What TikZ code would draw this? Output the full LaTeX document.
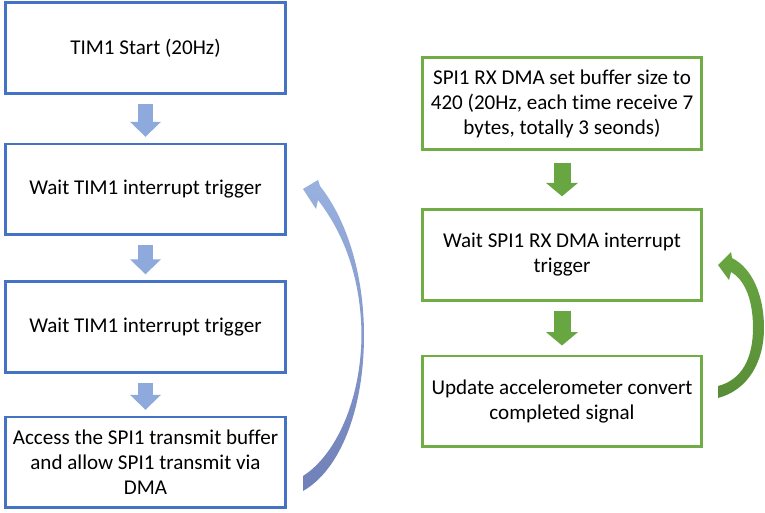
\documentclass[tikz,border=0pt]{standalone}
\usepackage{fontspec}
\setmainfont{Carlito}[Ligatures=NoCommon]
\usetikzlibrary{arrows.meta}

\definecolor{bordaazul}{HTML}{4472C4}
\definecolor{bordaverde}{HTML}{70AD47}
\definecolor{setaazul}{HTML}{8EA9DB}
\definecolor{setaverde}{HTML}{68A641}

\begin{document}
\begin{tikzpicture}[x=0.75pt, y=-0.75pt,
    caixa/.style={draw, line width=2pt, minimum width=210pt, minimum height=68pt,
        align=center, inner sep=0pt, font=\fontsize{15.8}{18.75}\selectfont},
    caixaazul/.style={caixa, draw=bordaazul},
    caixaverde/.style={caixa, draw=bordaverde, minimum width=209pt},
    setabloco/.style={line width=11.25pt, shorten <=7pt, shorten >=4.5pt,
        -{Triangle[width=22.5pt, length=11.25pt]}}]
    \useasboundingbox (0,0) rectangle (765,513);

    % Coluna da esquerda
    \node[caixaazul] (tstart) at (145.5,48) {TIM1 Start (20Hz)};
    \node[caixaazul] (espera1) at (145.5,189.5) {Wait TIM1 interrupt trigger};
    \node[caixaazul] (espera2) at (145.5,327) {Wait TIM1 interrupt trigger};
    \node[caixaazul] (acesso) at (145.5,462.5)
        {Access the SPI1 transmit buffer\\and allow SPI1 transmit via\\DMA};

    % Coluna da direita
    \node[caixaverde, minimum height=69pt] (rxset) at (562,103.5)
        {SPI1 RX DMA set buffer size to\\420 (20Hz, each time receive 7\\bytes, totally 3 seonds)};
    \node[caixaverde] (rxespera) at (562,255) {Wait SPI1 RX DMA interrupt\\trigger};
    \node[caixaverde] (atualiza) at (562,401.5) {Update accelerometer convert\\completed signal};

    % Setas de bloco
    \draw[setabloco, setaazul] (tstart) -- (espera1);
    \draw[setabloco, setaazul] (espera1) -- (espera2);
    \draw[setabloco, setaazul] (espera2) -- (acesso);
    \draw[setabloco, setaverde, line width=12.75pt, shorten <=9pt, shorten >=9pt,
        -{Triangle[width=23.25pt, length=10pt]}] (rxset) -- (rxespera);
    \draw[setabloco, setaverde, line width=12.75pt, shorten <=7pt, shorten >=7pt,
        -{Triangle[width=23.25pt, length=10pt]}] (rxespera) -- (atualiza);

    % Seta curva azul (volta)
    \shade[top color=setaazul!90!white, bottom color={rgb,255:red,112;green,128;blue,184}]
        (303,189) -- (318,180) -- (320,186)
        .. controls (347,220) and (364,275) .. (364,335)
        .. controls (364,410) and (340,470) .. (303,491)
        -- (303,476)
        .. controls (336,455) and (361,400) .. (361.5,335)
        .. controls (361,280) and (345,235) .. (318,200)
        -- (316,209) -- cycle;

    % Seta curva verde (volta)
    \shade[top color=setaverde, bottom color=setaverde!85!black]
        (718,265) -- (731,252) -- (732,258)
        .. controls (752,268) and (764,295) .. (764,328)
        .. controls (764,362) and (748,390) .. (718,398)
        -- (718,386)
        .. controls (742,380) and (753,358) .. (753,328)
        .. controls (753,300) and (745,280) .. (731,272)
        -- (729,280) -- cycle;
\end{tikzpicture}
\end{document}
